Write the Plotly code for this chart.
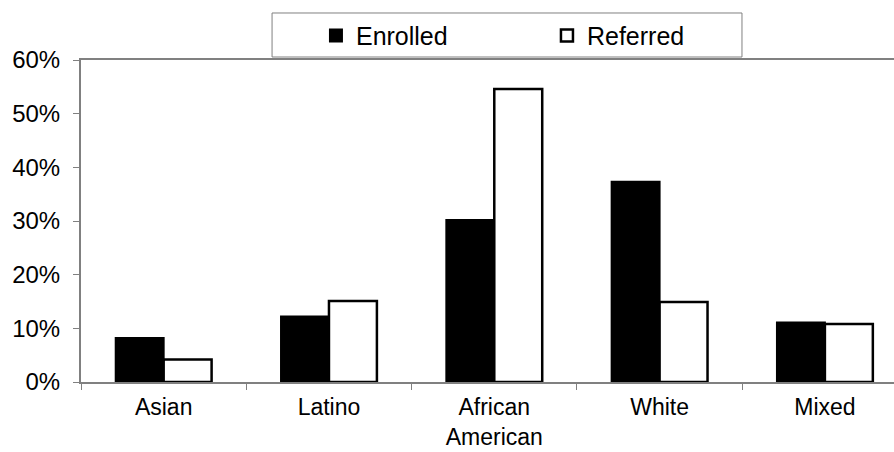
import plotly.graph_objects as go

categories = ["Asian", "Latino", "African<br>American", "White", "Mixed"]
enrolled = [8.2, 12.2, 30.2, 37.3, 11.1]
referred = [4.2, 15.1, 54.6, 14.9, 10.8]
y_ticks = [0, 10, 20, 30, 40, 50, 60]
y_tick_labels = ["0%", "10%", "20%", "30%", "40%", "50%", "60%"]

FONT = "Liberation Sans, Arial, sans-serif"

fig = go.Figure()
fig.add_trace(go.Bar(name="Enrolled", x=categories, y=enrolled,
                     marker=dict(color="black", line=dict(color="black", width=2))))
fig.add_trace(go.Bar(name="Referred", x=categories, y=referred,
                     marker=dict(color="white", line=dict(color="black", width=2.5))))

fig.update_layout(
    width=894, height=452,
    margin=dict(l=81, r=0, t=60, b=70, autoexpand=False),
    paper_bgcolor="white", plot_bgcolor="white",
    font=dict(family=FONT, size=24, color="black"),
    barmode="group", bargap=0.42, bargroupgap=0,
    showlegend=True,
    legend=dict(orientation="h", xref="paper", yref="paper",
                x=0.289, y=1.075, xanchor="left", yanchor="middle",
                borderwidth=0, bgcolor="rgba(0,0,0,0)",
                font=dict(size=25), itemwidth=30, entrywidthmode="pixels", entrywidth=186),
    shapes=[dict(type="rect", xref="paper", yref="paper",
                 x0=0.235, x1=0.813, y0=1.0093, y1=1.146,
                 line=dict(color="#808080", width=1), fillcolor="white", layer="below")],
)
fig.update_xaxes(type="category", range=[-0.5, 4.418], tickson="boundaries",
                 showline=True, linecolor="#808080", linewidth=2, mirror=True,
                 ticks="outside", ticklen=6, tickcolor="#808080", tickwidth=1,
                 showgrid=False, tickfont=dict(size=23), ticklabelstandoff=3)
fig.update_yaxes(range=[0, 60], tickvals=y_ticks, ticktext=y_tick_labels,
                 showline=True, linecolor="#808080", linewidth=2,
                 ticks="outside", ticklen=6, tickcolor="#808080", tickwidth=1,
                 showgrid=False, zeroline=False, tickfont=dict(size=24),
                 ticklabelstandoff=8)

fig.write_html("out.html", config={"displayModeBar": False},
               post_script="document.body.style.margin='0';document.body.style.overflow='hidden';")
